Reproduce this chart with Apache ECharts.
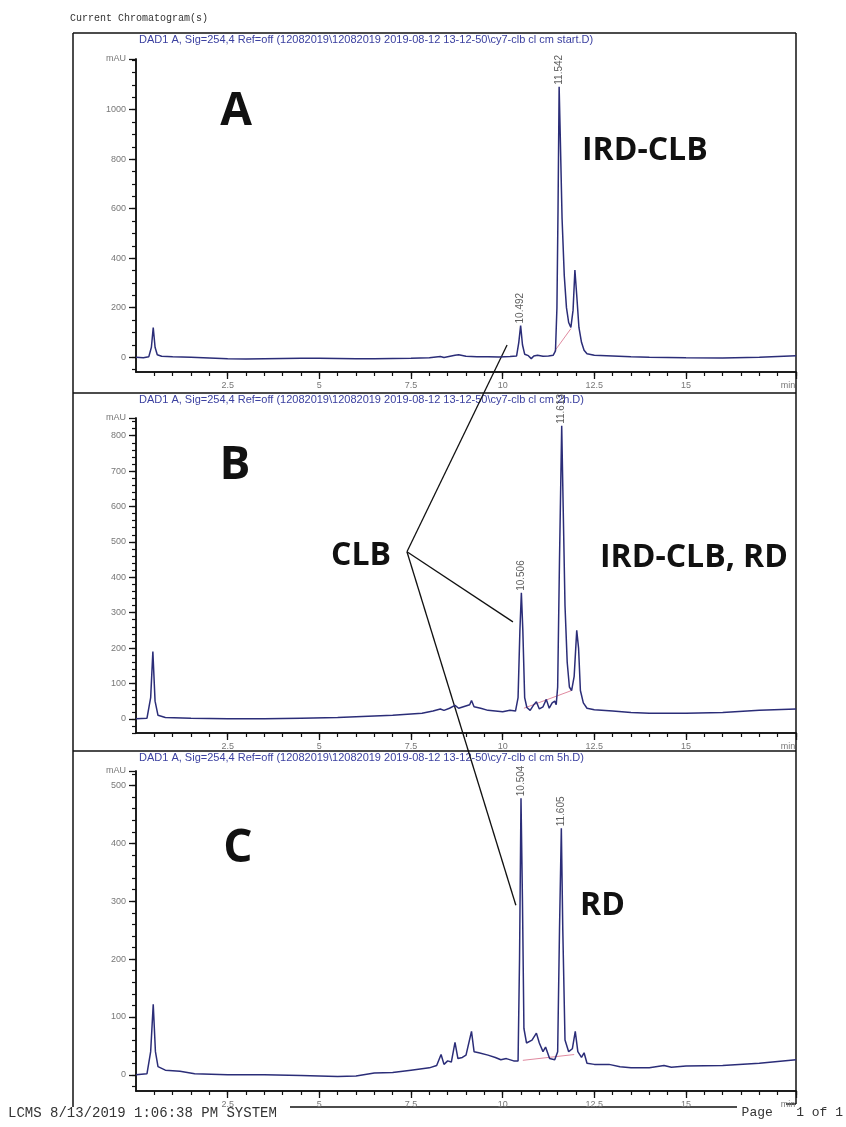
<!DOCTYPE html>
<html>
<head>
<meta charset="utf-8">
<script src="https://cdn.jsdelivr.net/npm/echarts@6/dist/echarts.min.js"></script>
<style>
html, body { margin: 0; padding: 0; background: #fff; }
#main { width: 846px; height: 1127px; }
</style>
</head>
<body>
<div id="main"></div>
<script>
// retention time (min) vs absorbance (mAU)
const traceA = [
  [0, 0], [0.2, -2], [0.35, 2], [0.42, 40], [0.47, 120], [0.52, 40], [0.58, 10], [0.7, 4], [1.0, 2],
  [1.5, 0], [2.0, -3], [2.5, -6], [3.0, -7], [3.5, -6], [4.0, -5], [4.5, -4], [5.0, -4], [5.5, -5],
  [6.0, -6], [6.5, -6], [7.0, -5], [7.5, -4], [8.0, -2], [8.3, 3], [8.4, -1], [8.7, 8], [8.8, 10],
  [9.0, 4], [9.3, 2], [9.6, 2], [9.9, 1], [10.2, 3], [10.38, 5], [10.44, 60], [10.49, 128], [10.54, 50],
  [10.6, 12], [10.7, 6], [10.78, -6], [10.85, 5], [10.95, 8], [11.1, 4], [11.25, 5], [11.38, 8],
  [11.44, 25], [11.48, 200], [11.51, 600], [11.54, 1093], [11.57, 900], [11.62, 560], [11.68, 330],
  [11.74, 200], [11.8, 140], [11.86, 120], [11.92, 190], [11.97, 352], [12.02, 250], [12.08, 120],
  [12.15, 60], [12.22, 28], [12.3, 14], [12.5, 8], [13.0, 5], [13.5, 2], [14.0, 0], [15.0, -2],
  [16.0, -3], [17.0, 0], [18.0, 6]
];
const traceB = [
  [0, 0], [0.3, 2], [0.4, 60], [0.46, 190], [0.52, 50], [0.6, 10], [0.8, 4], [1.5, 2], [2.5, 0],
  [3.5, 0], [4.5, 2], [5.5, 4], [6.5, 8], [7.0, 10], [7.5, 14], [7.8, 16], [8.1, 22], [8.3, 28],
  [8.4, 24], [8.55, 30], [8.7, 38], [8.8, 30], [8.95, 35], [9.1, 40], [9.15, 52], [9.22, 34],
  [9.4, 30], [9.6, 24], [9.8, 22], [10.0, 20], [10.2, 24], [10.35, 22], [10.42, 60], [10.47, 250],
  [10.51, 356], [10.55, 250], [10.6, 60], [10.66, 32], [10.75, 24], [10.85, 40], [10.92, 48],
  [11.0, 28], [11.1, 34], [11.19, 55], [11.27, 30], [11.35, 45], [11.42, 50], [11.46, 40], [11.5, 90],
  [11.55, 450], [11.61, 828], [11.65, 600], [11.7, 320], [11.76, 160], [11.82, 90], [11.88, 80],
  [11.95, 120], [12.02, 250], [12.07, 200], [12.12, 80], [12.2, 45], [12.3, 30], [12.5, 26],
  [13.0, 22], [13.5, 18], [14.0, 16], [15.0, 16], [16.0, 18], [17.0, 24], [18.0, 28]
];
const traceC = [
  [0, 0], [0.3, 2], [0.4, 40], [0.47, 122], [0.53, 40], [0.6, 14], [0.8, 8], [1.2, 6], [1.6, 2],
  [2.5, 0], [3.5, 0], [4.5, -1], [5.5, -3], [6.0, -2], [6.5, 3], [7.0, 4], [7.5, 8], [8.0, 12],
  [8.2, 16], [8.32, 35], [8.4, 18], [8.5, 24], [8.6, 22], [8.7, 56], [8.78, 28], [8.9, 30], [9.0, 34],
  [9.15, 75], [9.22, 40], [9.35, 38], [9.6, 34], [9.8, 30], [9.95, 26], [10.1, 28], [10.3, 24],
  [10.42, 24], [10.46, 200], [10.5, 478], [10.54, 300], [10.58, 80], [10.65, 55], [10.8, 60],
  [10.92, 72], [11.0, 55], [11.1, 40], [11.17, 48], [11.28, 28], [11.42, 26], [11.5, 40], [11.55, 250],
  [11.6, 426], [11.64, 250], [11.7, 60], [11.8, 40], [11.9, 45], [11.98, 75], [12.05, 40], [12.15, 30],
  [12.22, 38], [12.3, 20], [12.5, 18], [12.9, 18], [13.2, 14], [13.5, 12], [14.0, 12], [14.4, 16],
  [14.6, 13], [15.0, 15], [16.0, 16], [17.0, 20], [18.0, 26]
];
// integration baselines (pink)
const baseA = [[11.42, 25], [11.86, 115]];
const baseB = [[10.58, 30], [11.88, 80]];
const baseC = [[10.55, 25], [11.95, 35]];
// labelled peaks [time, height, label]
const peaksA = [[10.49, 128, '10.492'], [11.54, 1093, '11.542']];
const peaksB = [[10.51, 356, '10.506'], [11.61, 828, '11.613']];
const peaksC = [[10.5, 478, '10.504'], [11.6, 426, '11.605']];

const xLabels = [2.5, 5, 7.5, 10, 12.5, 15, 18];
const yLabelsA = [0, 200, 400, 600, 800, 1000];
const yLabelsB = [0, 100, 200, 300, 400, 500, 600, 700, 800];
const yLabelsC = [0, 100, 200, 300, 400, 500];
const yRanges = [[-60, 1205], [-40, 850], [-28, 525]];
const yMinorStep = [50, 20, 20];

const titles = [
  'DAD1 A, Sig=254,4 Ref=off (12082019\\12082019 2019-08-12 13-12-50\\cy7-clb cl cm start.D)',
  'DAD1 A, Sig=254,4 Ref=off (12082019\\12082019 2019-08-12 13-12-50\\cy7-clb cl cm 2h.D)',
  'DAD1 A, Sig=254,4 Ref=off (12082019\\12082019 2019-08-12 13-12-50\\cy7-clb cl cm 5h.D)'
];

const traces = [traceA, traceB, traceC];
const bases = [baseA, baseB, baseC];
const peaks = [peaksA, peaksB, peaksC];
const yLabels = [yLabelsA, yLabelsB, yLabelsC];

const lineColor = '#2b2d78';
const axisFont = 'Liberation Sans, Arial, sans-serif';
const bigFont = '"Open Sans", "Noto Sans", sans-serif';
const monoFont = '"Liberation Mono", "DejaVu Sans Mono", monospace';

const gridPos = [
  { top: 59, height: 313 },
  { top: 418, height: 315 },
  { top: 771, height: 320 }
];

function steps(from, to, step) {
  const out = [];
  for (let v = from; v <= to + 1e-9; v += step) out.push(Math.round(v * 100) / 100);
  return out;
}

const grid = [];
const xAxis = [];
const yAxis = [];
const series = [];

gridPos.forEach((g, i) => {
  grid.push({ left: 136, right: 50, top: g.top, height: g.height });
  const [ymin, ymax] = yRanges[i];
  const axisBase = {
    gridIndex: i,
    type: 'value',
    axisLine: { show: true, onZero: false, lineStyle: { color: '#111', width: 1.5 } },
    splitLine: { show: false }
  };
  // x axes: labelled major ticks + minor ticks
  xAxis.push(Object.assign({}, axisBase, {
    min: 0, max: 18, position: 'bottom',
    axisTick: { show: true, length: 7, customValues: xLabels, lineStyle: { color: '#111', width: 1.3 } },
    axisLabel: {
      customValues: xLabels, margin: 9, color: '#777', fontSize: 9, fontFamily: axisFont,
      formatter: v => v === 18 ? '{m|min}' : String(v),
      rich: { m: { padding: [0, 16, 0, 0], fontSize: 9, color: '#777' } }
    }
  }));
  xAxis.push(Object.assign({}, axisBase, {
    min: 0, max: 18, position: 'bottom',
    axisTick: { show: true, length: 4, customValues: steps(0.5, 18, 0.5), lineStyle: { color: '#111', width: 1.2 } },
    axisLabel: { show: false }
  }));
  // y axes
  const yl = yLabels[i].concat([ymax]);
  yAxis.push(Object.assign({}, axisBase, {
    min: ymin, max: ymax, position: 'left',
    axisTick: { show: true, length: 7, customValues: yl, lineStyle: { color: '#111', width: 1.3 } },
    axisLabel: {
      customValues: yl, margin: 10, color: '#777', fontSize: 9, fontFamily: axisFont,
      formatter: v => v === ymax ? 'mAU' : String(v)
    }
  }));
  const st = yMinorStep[i];
  yAxis.push(Object.assign({}, axisBase, {
    min: ymin, max: ymax, position: 'left',
    axisTick: { show: true, length: 4, customValues: steps(Math.ceil(ymin / st) * st, ymax, st), lineStyle: { color: '#111', width: 1.2 } },
    axisLabel: { show: false }
  }));

  series.push({
    type: 'line', xAxisIndex: i * 2, yAxisIndex: i * 2,
    data: traces[i], showSymbol: false, symbol: 'none',
    lineStyle: { color: lineColor, width: 1.5 }, z: 3
  });
  series.push({
    type: 'line', xAxisIndex: i * 2, yAxisIndex: i * 2,
    data: bases[i], showSymbol: false, symbol: 'none',
    lineStyle: { color: '#e08aa0', width: 1 }, z: 2
  });
  series.push({
    type: 'scatter', xAxisIndex: i * 2, yAxisIndex: i * 2,
    data: peaks[i].map(p => ({ value: [p[0], p[1]], name: p[2] })),
    symbolSize: 0,
    label: {
      show: true, position: 'top', distance: 2, rotate: 90, align: 'left', verticalAlign: 'middle',
      formatter: p => p.name, fontSize: 10, color: '#333', fontFamily: axisFont
    },
    z: 4
  });
});

const frameStyle = { stroke: '#111', lineWidth: 1.5 };
function hLine(x1, x2, y) { return { type: 'line', shape: { x1, y1: y, x2, y2: y }, style: frameStyle, silent: true }; }
function vLine(x, y1, y2) { return { type: 'line', shape: { x1: x, y1, x2: x, y2 }, style: frameStyle, silent: true }; }
function txt(x, y, text, font, extra) {
  return { type: 'text', x, y, silent: true, style: Object.assign({ text, font, fill: '#111', textVerticalAlign: 'middle' }, extra || {}) };
}

const staticGraphic = [
  hLine(73, 796, 33), hLine(73, 796, 393), hLine(73, 796, 751),
  vLine(73, 33, 1107), vLine(796, 33, 1104), hLine(786, 796, 1104),
  hLine(290, 737, 1107),
  txt(70, 18, 'Current Chromatogram(s)', '10px ' + monoFont, { fill: '#333' }),
  txt(8, 1113, 'LCMS 8/13/2019 1:06:38 PM SYSTEM', '14px ' + monoFont, { fill: '#333' }),
  txt(843, 1113, 'Page   1 of 1', '13px ' + monoFont, { fill: '#333', textAlign: 'right' }),
  txt(139, 40, titles[0], '11px ' + axisFont, { fill: '#3b40a0' }),
  txt(139, 400, titles[1], '11px ' + axisFont, { fill: '#3b40a0' }),
  txt(139, 758, titles[2], '11px ' + axisFont, { fill: '#3b40a0' }),
  txt(236, 112, 'A', 'bold 46px ' + bigFont, { textAlign: 'center' }),
  txt(235, 466, 'B', 'bold 46px ' + bigFont, { textAlign: 'center' }),
  txt(238, 849, 'C', 'bold 46px ' + bigFont, { textAlign: 'center' }),
  txt(582, 151, 'IRD-CLB', 'bold 32px ' + bigFont),
  txt(331, 556, 'CLB', 'bold 32px ' + bigFont),
  txt(600, 558, 'IRD-CLB, RD', 'bold 32px ' + bigFont),
  txt(580, 906, 'RD', 'bold 32px ' + bigFont)
];

// pointer lines from the CLB label to the CLB peak in each run (data coordinates)
const clbVertex = [7.39, 472];          // panel B coordinates
const clbTargets = [[10.12, 49], [10.28, 274], [10.36, 293]];

const chart = echarts.init(document.getElementById('main'));
chart.setOption({
  animation: false,
  backgroundColor: '#fff',
  grid, xAxis, yAxis, series,
  graphic: staticGraphic
});

const v = chart.convertToPixel({ gridIndex: 1 }, clbVertex);
const pointerLines = clbTargets.map((t, i) => {
  const p = chart.convertToPixel({ gridIndex: i }, t);
  return { type: 'line', silent: true, shape: { x1: v[0], y1: v[1], x2: p[0], y2: p[1] }, style: { stroke: '#111', lineWidth: 1.3 } };
});
chart.setOption({ graphic: staticGraphic.concat(pointerLines) });
</script>
</body>
</html>
